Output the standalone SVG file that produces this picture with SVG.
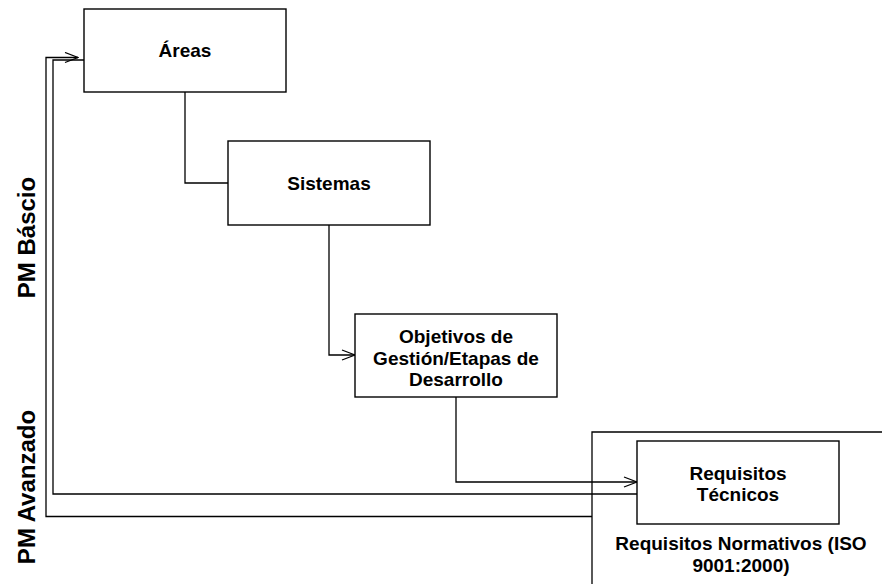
<svg xmlns="http://www.w3.org/2000/svg" width="882" height="584" viewBox="0 0 882 584">
<style>
.box{fill:#fff;stroke:#000;stroke-width:1.4}
.ln{fill:none;stroke:#000;stroke-width:1.3}
.t{font-family:"Liberation Sans",Arial,sans-serif;font-weight:bold;font-size:19px;text-anchor:middle;fill:#000}
.lbl{font-family:"Liberation Sans",Arial,sans-serif;font-weight:bold;font-size:24px;text-anchor:middle;fill:#000}
</style>
<defs>
<marker id="arr" viewBox="0 0 15 12" refX="14" refY="6" markerWidth="15" markerHeight="12" orient="auto" markerUnits="userSpaceOnUse">
<path d="M1,1 L14,6 L1,11" fill="none" stroke="#000" stroke-width="1.3"/>
</marker>
</defs>
<rect width="882" height="584" fill="#fff"/>
<g id="container">
<path class="ln" d="M884,432 H592 V586"/>
<text class="t" x="741" y="550">Requisitos Normativos (ISO</text>
<text class="t" x="741" y="572">9001:2000)</text>
</g>
<g id="connectors">
<path class="ln" d="M185,92 V183 H228"/>
<path class="ln" d="M329,225 V355 H355" marker-end="url(#arr)"/>
<path class="ln" d="M456,397 V482 H637" marker-end="url(#arr)"/>
<path class="ln" d="M642,494 H53 V60 H84"/>
<path class="ln" d="M592,516.5 H46 V57.5 H78" marker-end="url(#arr)"/>
</g>
<g id="areas">
<rect class="box" x="84" y="9" width="202" height="83"/>
<text class="t" x="185" y="57">Áreas</text>
</g>
<g id="sistemas">
<rect class="box" x="228" y="141" width="202" height="84"/>
<text class="t" x="329" y="190">Sistemas</text>
</g>
<g id="objetivos">
<rect class="box" x="355" y="314" width="202" height="83"/>
<text class="t" x="456" y="343">Objetivos de</text>
<text class="t" x="456" y="365">Gestión/Etapas de</text>
<text class="t" x="456" y="386">Desarrollo</text>
</g>
<g id="requisitos">
<rect class="box" x="637" y="441" width="202" height="83"/>
<text class="t" x="738" y="480">Requisitos</text>
<text class="t" x="738" y="501">Técnicos</text>
</g>
<g id="labels">
<text class="lbl" transform="translate(35,237.5) rotate(-90)">PM Báscio</text>
<text class="lbl" transform="translate(35,487) rotate(-90)">PM Avanzado</text>
</g>
</svg>
